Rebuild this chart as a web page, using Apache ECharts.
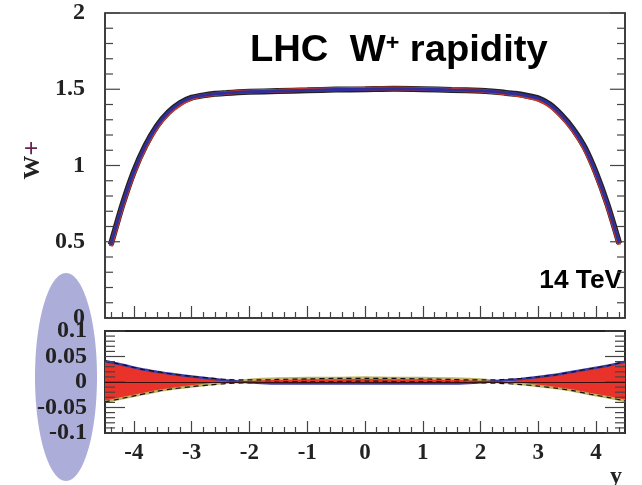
<!DOCTYPE html>
<html>
<head>
<meta charset="utf-8">
<script src="https://cdn.jsdelivr.net/npm/echarts@6/dist/echarts.min.js"></script>
<style>
  html, body { margin: 0; padding: 0; background: #fff; }
  #chart { width: 642px; height: 485px; }
</style>
</head>
<body>
<div id="chart"></div>
<script>
// upper panel: W+ rapidity distribution
const yUp = [-4.4, -4.2, -4.0, -3.8, -3.6, -3.4, -3.2, -3.0, -2.8, -2.6, -2.4, -2.2, -2.0, -1.5, -1.0, -0.5, 0,
  0.5, 1.0, 1.5, 2.0, 2.2, 2.4, 2.6, 2.8, 3.0, 3.2, 3.4, 3.6, 3.8, 4.0, 4.2, 4.4]
const wBlue = [0.48, 0.74, 0.96, 1.13, 1.26, 1.35, 1.41, 1.445, 1.46, 1.47, 1.475, 1.48, 1.483, 1.488, 1.493, 1.498, 1.5,
  1.503, 1.5, 1.495, 1.49, 1.485, 1.478, 1.47, 1.457, 1.44, 1.4, 1.33, 1.24, 1.12, 0.95, 0.74, 0.49]
const wRed = [0.47, 0.73, 0.95, 1.12, 1.25, 1.34, 1.40, 1.44, 1.458, 1.468, 1.475, 1.482, 1.486, 1.49, 1.496, 1.5, 1.503,
  1.505, 1.502, 1.497, 1.49, 1.483, 1.475, 1.465, 1.45, 1.43, 1.39, 1.32, 1.23, 1.11, 0.94, 0.73, 0.48]

// lower panel: relative uncertainty band
const yLow = [-4.5, -4.2, -3.9, -3.6, -3.3, -3.0, -2.7, -2.4, -2.1, -1.8, -1.5, -1.0, -0.5, 0,
  0.5, 1.0, 1.5, 1.8, 2.1, 2.4, 2.7, 3.0, 3.3, 3.6, 3.9, 4.2, 4.5]
const bandHi = [0.041, 0.034, 0.026, 0.020, 0.015, 0.011, 0.008, 0.005, 0.004, 0.004, 0.005, 0.006, 0.007, 0.007,
  0.007, 0.006, 0.005, 0.004, 0.004, 0.005, 0.007, 0.010, 0.014, 0.020, 0.026, 0.032, 0.040]
const bandLo = [-0.039, -0.032, -0.025, -0.018, -0.013, -0.009, -0.006, -0.003, -0.002, -0.001, 0.0, 0.001, 0.001, 0.002,
  0.001, 0.001, 0.0, -0.001, -0.002, -0.003, -0.005, -0.008, -0.012, -0.017, -0.024, -0.030, -0.037]
const lineBlue = [0.041, 0.034, 0.026, 0.020, 0.015, 0.011, 0.007, 0.003, 0.0, -0.002, -0.003, -0.003, -0.003, -0.003,
  -0.003, -0.003, -0.003, -0.002, 0.0, 0.003, 0.006, 0.010, 0.014, 0.020, 0.026, 0.032, 0.040]
const lineOlive = [-0.039, -0.032, -0.025, -0.018, -0.013, -0.009, -0.005, -0.001, 0.003, 0.006, 0.007, 0.008, 0.008, 0.009,
  0.008, 0.008, 0.007, 0.006, 0.004, 0.0, -0.004, -0.008, -0.012, -0.017, -0.024, -0.030, -0.037]

// tick labels / tick positions
const xMajor = [-4, -3, -2, -1, 0, 1, 2, 3, 4]
const upMajor = [0, 0.5, 1, 1.5, 2]
const lowMajor = [-0.1, -0.05, 0, 0.05, 0.1]
const minorList = (from, to, step, every) => {
  const out = []
  for (let i = from; i <= to; i++) if (i % every !== 0) out.push(i * step)
  return out
}
const xMinor = minorList(-22, 22, 0.2, 5)
const upMinor = minorList(0, 20, 0.1, 5)
const lowMinor = minorList(-10, 10, 0.01, 5)

const pairs = (xs, ys) => xs.map((x, i) => [x, ys[i]])
const serif = '"Liberation Serif", "Times New Roman", serif'
const sans = '"Liberation Sans", Arial, sans-serif'
const ink = '#222'
const tickStyle = { color: '#444', width: 1.2 }

const xAxisBase = (grid, ticks, len, showLine, labels) => ({
  type: 'value', gridIndex: grid, position: 'bottom', min: -4.5, max: 4.5,
  axisLine: { show: showLine, onZero: false, lineStyle: { color: '#333', width: 1.5 } },
  axisTick: { show: true, inside: true, length: len, customValues: ticks, lineStyle: tickStyle },
  axisLabel: labels
    ? { customValues: xMajor, margin: 9, fontFamily: serif, fontWeight: 'bold', fontSize: 23, color: ink }
    : { show: false },
  splitLine: { show: false }
})

const yAxisBase = (grid, pos, min, max, labels, margin) => ({
  type: 'value', gridIndex: grid, position: pos, min: min, max: max,
  axisLine: { show: true, onZero: false, lineStyle: { color: '#333', width: 1.5 } },
  axisTick: { show: false },
  axisLabel: labels
    ? { customValues: labels, margin: margin, fontFamily: serif, fontWeight: 'bold', fontSize: 24, color: ink }
    : { show: false },
  splitLine: { show: false }
})

const staticGraphic = [
  {
    type: 'ellipse', z: -1,
    shape: { cx: 66, cy: 377, rx: 31, ry: 104 },
    style: { fill: '#adadd9' }
  },
  {
    type: 'text', x: 250, y: 33, scaleX: 1.06,
    style: {
      text: 'LHC  W{sup|+} rapidity',
      font: 'bold 36px ' + sans, fill: '#000',
      rich: { sup: { fontSize: 22, fontWeight: 'bold', fontFamily: sans, verticalAlign: 'top', padding: [0, 0, 10, 0] } }
    }
  },
  {
    type: 'text', x: 622, y: 294, scaleX: 1.05,
    style: { text: '14 TeV', font: 'bold 25px ' + sans, fill: '#000', align: 'right', verticalAlign: 'bottom' }
  },
  {
    type: 'text', x: 33, y: 160, rotation: Math.PI / 2,
    style: {
      text: 'W{p|+}', font: 'bold 24px ' + serif, fill: ink, align: 'center', verticalAlign: 'middle',
      rich: { p: { fontSize: 26, fontWeight: 'bold', fontFamily: serif, fill: '#6a2050' } }
    }
  },
  {
    type: 'text', x: 616, y: 477,
    style: { text: 'y', font: 'bold 24px ' + serif, fill: ink, align: 'center', verticalAlign: 'middle' }
  }
]

const myChart = echarts.init(document.getElementById('chart'))
myChart.setOption({
  animation: false,
  grid: [
    { left: 105, right: 17, top: 13, height: 305, show: true, borderColor: '#333', borderWidth: 1.5 },
    { left: 105, right: 17, top: 331, height: 102, show: true, borderColor: '#222', borderWidth: 2 }
  ],
  xAxis: [
    xAxisBase(0, xMajor, 12, true, false),
    xAxisBase(0, xMinor, 6, false, false),
    xAxisBase(1, xMajor, 12, true, true),
    xAxisBase(1, xMinor, 6, false, false)
  ],
  yAxis: [
    yAxisBase(0, 'left', 0, 2, upMajor, 20),
    yAxisBase(0, 'right', 0, 2, null, 0),
    yAxisBase(1, 'left', -0.1, 0.1, lowMajor, 18),
    yAxisBase(1, 'right', -0.1, 0.1, null, 0)
  ],
  graphic: staticGraphic,
  series: [
    // upper panel curves
    {
      type: 'line', xAxisIndex: 0, yAxisIndex: 0, symbol: 'none', smooth: 0.2,
      data: pairs(yUp, wBlue), lineStyle: { color: '#222', width: 6 }
    },
    {
      type: 'line', xAxisIndex: 0, yAxisIndex: 0, symbol: 'none', smooth: 0.2,
      data: pairs(yUp, wRed), lineStyle: { color: '#c83a28', width: 4 }
    },
    {
      type: 'line', xAxisIndex: 0, yAxisIndex: 0, symbol: 'none', smooth: 0.2,
      data: pairs(yUp, wBlue), lineStyle: { color: '#2e2e9c', width: 3 }
    },
    // lower panel band
    {
      type: 'line', xAxisIndex: 2, yAxisIndex: 2, symbol: 'none', smooth: 0.2,
      data: pairs(yLow, bandHi), lineStyle: { width: 0 },
      areaStyle: { color: '#e8322a', opacity: 1 },
      markLine: {
        silent: true, symbol: 'none', label: { show: false },
        lineStyle: { color: '#3a1010', width: 1.2, type: 'solid' },
        data: [{ yAxis: 0 }]
      }
    },
    {
      type: 'line', xAxisIndex: 2, yAxisIndex: 2, symbol: 'none', smooth: 0.2,
      data: pairs(yLow, bandLo), lineStyle: { width: 0 },
      areaStyle: { color: '#e8322a', opacity: 1 }
    },
    {
      type: 'line', xAxisIndex: 2, yAxisIndex: 2, symbol: 'none', smooth: 0.2,
      data: pairs(yLow, lineOlive), lineStyle: { color: '#bdb364', width: 2.5 }
    },
    {
      type: 'line', xAxisIndex: 2, yAxisIndex: 2, symbol: 'none', smooth: 0.2,
      data: pairs(yLow, lineBlue), lineStyle: { color: '#3a3aa8', width: 2.5 }
    },
    {
      type: 'line', xAxisIndex: 2, yAxisIndex: 2, symbol: 'none', smooth: 0.2,
      data: pairs(yLow, bandHi), lineStyle: { color: '#111', width: 1.2, type: [5, 4] }
    },
    {
      type: 'line', xAxisIndex: 2, yAxisIndex: 2, symbol: 'none', smooth: 0.2,
      data: pairs(yLow, bandLo), lineStyle: { color: '#111', width: 1.2, type: [5, 4] }
    }
  ]
})

// y-axis ticks on both frame sides, placed through the chart's own scales
const yTicks = []
const addTicks = (axisIdx, vals, len) => vals.forEach(v => {
  const [xl, py] = myChart.convertToPixel({ xAxisIndex: axisIdx, yAxisIndex: axisIdx }, [-4.5, v])
  const [xr] = myChart.convertToPixel({ xAxisIndex: axisIdx, yAxisIndex: axisIdx }, [4.5, v])
  const style = { stroke: '#444', lineWidth: 1.2 }
  yTicks.push({ type: 'line', z: 5, silent: true, shape: { x1: xl, y1: py, x2: xl + len, y2: py }, style })
  yTicks.push({ type: 'line', z: 5, silent: true, shape: { x1: xr, y1: py, x2: xr - len, y2: py }, style })
})
addTicks(0, upMajor, 15)
addTicks(0, upMinor, 8)
addTicks(2, lowMajor, 20)
addTicks(2, lowMinor, 10)
myChart.setOption({ graphic: staticGraphic.concat(yTicks) })
</script>
</body>
</html>
